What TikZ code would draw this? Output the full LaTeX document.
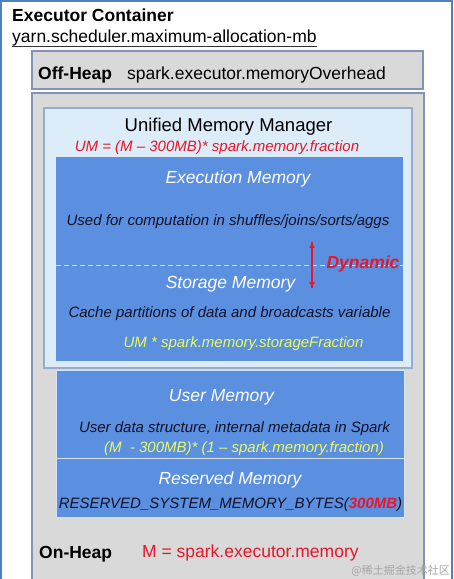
\documentclass[tikz,border=0pt]{standalone}
\usepackage{fontspec}
\setmainfont{Liberation Sans}
\newfontfamily\cjkfont{Noto Sans CJK SC}
\usepackage{tikz}
\usetikzlibrary{positioning}
\usetikzlibrary{shapes,calc,arrows.meta}
\definecolor{frameblue}{RGB}{79,129,189}
\definecolor{heapgray}{RGB}{217,217,217}
\definecolor{heapline}{RGB}{132,148,180}
\definecolor{umfill}{RGB}{221,236,249}
\definecolor{umline}{RGB}{150,172,205}
\definecolor{memblue}{RGB}{91,143,224}
\definecolor{dynred}{RGB}{232,22,40}
\definecolor{fracyellow}{RGB}{236,250,96}
\definecolor{darktext}{RGB}{16,18,40}
\tikzset{
	x=1pt, y=-1pt,
	region/.style = {rectangle, anchor=north west, inner sep=0pt, outer sep=0pt},
	heap/.style = {region, draw=heapline, fill=heapgray, line width=1.4pt},
	mem/.style = {region, fill=memblue, draw=white!75!memblue, line width=0.8pt},
	txt/.style = {inner sep=0pt, anchor=base},
	big/.style = {font=\fontsize{17.5}{20}\selectfont},
	note/.style = {font=\fontsize{15}{18}\selectfont\itshape},
}

\begin{document}
\begin{tikzpicture}[
	memtitle/.style = {txt, font=\fontsize{17.5}{20}\selectfont\itshape, text=white},
	memnote/.style = {txt, note, text=darktext},
	formula/.style = {txt, note, text=fracyellow}]
	\clip (0,0) rectangle (454,579);
	\node[region, draw=frameblue, fill=white, line width=1.5pt, minimum width=451, minimum height=620] (Container) at (1,1) {};
	\node[txt, anchor=base west, font=\fontsize{17.5}{20}\selectfont\bfseries] (ContainerTitle) at (12,21.5) {Executor Container};
	\node[txt, anchor=base west, big] (YarnParam) at (12,42.5) {yarn.scheduler.maximum-allocation-mb};
	\draw[line width=1pt, black!80] (YarnParam.south west) -- (YarnParam.south east);

	\node[heap, minimum width=391, minimum height=38] (OffHeap) at (32,51) {};
	\node[txt, anchor=base west, font=\fontsize{17.5}{20}\selectfont\bfseries] (OffHeapLabel) at (38,79) {Off-Heap};
	\node[txt, anchor=base west, big] (OffHeapParam) at (127,79) {spark.executor.memoryOverhead};

	\node[heap, minimum width=392, minimum height=520] (OnHeap) at (32,93) {};
	\node[region, fill=umfill, draw=umline, line width=1.2pt, minimum width=368, minimum height=260] (UnifiedMemory) at (44,108) {};
	\node[txt, font=\fontsize{18.5}{21}\selectfont] (UnifiedTitle) at (228.5,131) {Unified Memory Manager};
	\node[txt, note, text=dynred] (UnifiedFormula) at (217,151.5) {UM = (M – 300MB)* spark.memory.fraction};

	\node[mem, draw=none, minimum width=347, minimum height=204] (ExecStorage) at (56,157) {};
	\coordinate (SplitLeft) at (56,265);
	\coordinate (SplitRight) at (403,265);
	\draw[dashed, dash pattern=on 5pt off 3pt, white!70!memblue, line width=0.9pt] (SplitLeft) -- (SplitRight);

	\node[memtitle] (ExecTitle) at (238,183) {Execution Memory};
	\node[memnote] (ExecNote) at (228,225) {Used for computation in shuffles/joins/sorts/aggs};
	\node[memtitle] (StorageTitle) at (230.5,288) {Storage Memory};
	\node[memnote] (StorageNote) at (229.5,317) {Cache partitions of data and broadcasts variable};
	\node[formula] (StorageFormula) at (243.5,347) {UM * spark.memory.storageFraction};

	\coordinate (DynTop) at (312,242);
	\coordinate (DynBottom) at (312,288);
	\draw[-{Latex[length=6pt,width=6pt]}, dynred, line width=1.6pt] (DynTop) -- (DynBottom);
	\draw[-{Latex[length=6pt,width=6pt]}, dynred, line width=1.6pt] (DynBottom) -- (DynTop);
	\node[txt, text=dynred, font=\fontsize{17.5}{20}\selectfont\bfseries\itshape] (Dynamic) at (363,268) {Dynamic};

	\node[mem, minimum width=348, minimum height=88] (UserMemory) at (56,370) {};
	\node[mem, minimum width=348, minimum height=59] (ReservedMemory) at (56,458) {};
	\node[memtitle] (UserTitle) at (221.5,401) {User Memory};
	\node[memnote] (UserNote) at (234.5,432) {User data structure, internal metadata in Spark};
	\node[formula] (UserFormula) at (244,452) {(M\ \ - 300MB)* (1 – spark.memory.fraction)};
	\node[memtitle] (ReservedTitle) at (230,484) {Reserved Memory};
	\node[memnote] (ReservedNote) at (230.5,508) {RESERVED\_SYSTEM\_MEMORY\_BYTES(\textcolor{dynred}{\bfseries 300MB})};

	\node[txt, anchor=base west, font=\fontsize{17.5}{20}\selectfont\bfseries] (OnHeapLabel) at (39,558) {On-Heap};
	\node[txt, anchor=base west, big, text=dynred] (OnHeapParam) at (142,557) {M = spark.executor.memory};
	\node[txt, anchor=base east, font=\cjkfont\fontsize{11}{12}\selectfont, text=black!35] (Watermark) at (450,574) {@稀土掘金技术社区};
\end{tikzpicture}
\end{document}
